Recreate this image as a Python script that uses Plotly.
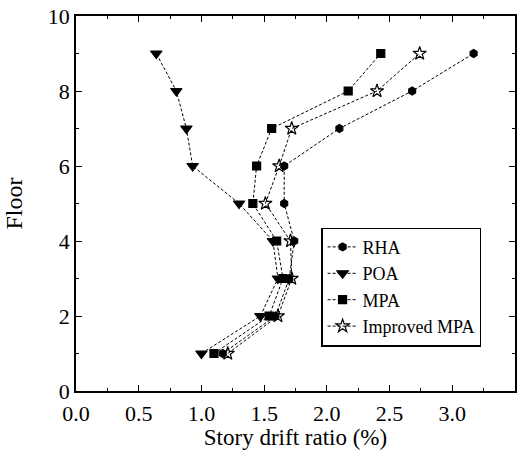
import plotly.graph_objects as go

floors = [1, 2, 3, 4, 5, 6, 7, 8, 9]
rha = [1.17, 1.59, 1.70, 1.74, 1.66, 1.66, 2.10, 2.68, 3.17]
poa = [1.00, 1.47, 1.61, 1.57, 1.30, 0.93, 0.88, 0.80, 0.64]
mpa = [1.10, 1.54, 1.65, 1.60, 1.41, 1.44, 1.56, 2.17, 2.43]
impa = [1.21, 1.61, 1.72, 1.71, 1.51, 1.62, 1.72, 2.40, 2.74]

x_ticks = [0.0, 0.5, 1.0, 1.5, 2.0, 2.5, 3.0, 3.5]
y_ticks = [0, 2, 4, 6, 8, 10]

font = "Liberation Serif"

series = [
    ("RHA", rha, "hexagon", 8),
    ("POA", poa, "triangle-down", 10),
    ("MPA", mpa, "square", 8),
    ("Improved MPA", impa, "star-open", 10),
]

fig = go.Figure()
for name, vals, sym, size in series:
    fig.add_trace(go.Scatter(
        x=vals, y=floors, name=name, mode="lines+markers",
        line=dict(color="black", width=1, dash="3px,2px"),
        marker=dict(symbol=sym, size=size, color="black",
                    line=dict(color="black", width=1.2)),
    ))

axis_common = dict(
    showline=True, linecolor="black", linewidth=1.5, mirror="ticks",
    ticks="inside", ticklen=6, tickwidth=1.2, tickcolor="black",
    showgrid=False, zeroline=False,
    tickfont=dict(family=font, size=22, color="black"),
)

fig.update_layout(
    width=521, height=450,
    margin=dict(l=76, r=4, t=14, b=59),
    paper_bgcolor="white", plot_bgcolor="white",
    font=dict(family=font, size=20, color="black"),
    xaxis=dict(range=[0, 3.5], tickvals=x_ticks,
               ticktext=[f"{v:.1f}" for v in x_ticks],
               ticklabelstandoff=2,
               minor=dict(ticks="inside", ticklen=3, tickcolor="black", dtick=0.25),
               title=dict(text="Story drift ratio (%)", standoff=4,
                          font=dict(family=font, size=23)),
               **axis_common),
    yaxis=dict(range=[0, 10], tickvals=y_ticks,
               ticklabelstandoff=0,
               minor=dict(ticks="inside", ticklen=3, tickcolor="black", dtick=1),
               title=dict(text="Floor", standoff=18,
                          font=dict(family=font, size=24)),
               **axis_common),
    legend=dict(x=0.559, y=0.436, xanchor="left", yanchor="top",
                bordercolor="black", borderwidth=1.2, bgcolor="white",
                font=dict(family=font, size=18), tracegroupgap=0,
                itemwidth=30),
    showlegend=True,
)

fig.write_html("out.html")
